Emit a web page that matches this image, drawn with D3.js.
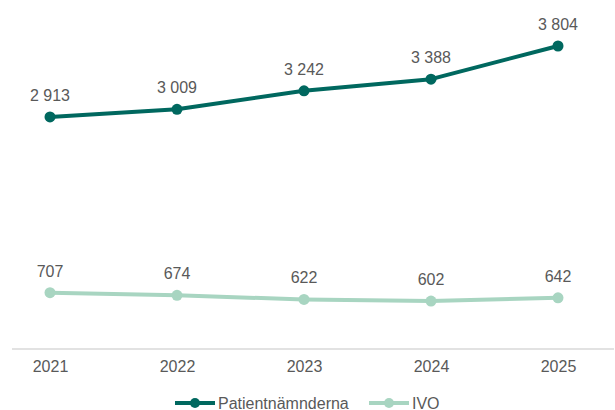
<!DOCTYPE html>
<html>
<head>
<meta charset="utf-8">
<script src="https://cdn.jsdelivr.net/npm/d3@7"></script>
<style>
  body { margin: 0; background: #fff; }
  text { font-family: "Liberation Sans", Arial, sans-serif; fill: #595959; }
</style>
</head>
<body>
<div id="chart"></div>
<script>
(function () {

    var years = ['2021', '2022', '2023', '2024', '2025'];
    var patient = [2913, 3009, 3242, 3388, 3804];
    var ivo = [707, 674, 622, 602, 642];
    var seriesNames = ['Patientnämnderna', 'IVO'];
    var colors = ['#00685f', '#a8d5c1'];

    var w = 615, h = 410;
    var fmt = function (v) { return d3.format(',')(v).replace(/,/g, ' '); };

    var svg = d3.select('#chart').append('svg')
        .attr('width', w)
        .attr('height', h);

    var x = d3.scalePoint().domain(years).range([50, 558]);
    var y = d3.scaleLinear().domain([0, 4000]).range([349, 30.4]);

    // baseline
    svg.append('line')
        .attr('x1', 12).attr('x2', 614)
        .attr('y1', y(0)).attr('y2', y(0))
        .attr('stroke', '#d9d9d9').attr('stroke-width', 1.5);

    var xAxis = svg.append('g')
        .attr('transform', 'translate(0,' + y(0) + ')')
        .call(d3.axisBottom(x).tickSize(0).tickPadding(12));
    xAxis.select('.domain').remove();
    xAxis.selectAll('text')
        .attr('font-size', 16)
        .attr('font-family', '"Liberation Sans", Arial, sans-serif')
        .attr('fill', '#595959');

    var series = [patient, ivo];
    var line = d3.line()
        .x(function (d, i) { return x(years[i]); })
        .y(function (d) { return y(d); });

    series.forEach(function (data, s) {
        svg.append('path')
            .datum(data)
            .attr('d', line)
            .attr('fill', 'none')
            .attr('stroke', colors[s])
            .attr('stroke-width', 4)
            .attr('stroke-linejoin', 'round');

        svg.selectAll('circle.s' + s)
            .data(data)
            .enter()
            .append('circle')
                .attr('class', 's' + s)
                .attr('cx', function (d, i) { return x(years[i]); })
                .attr('cy', function (d) { return y(d); })
                .attr('r', 5.5)
                .attr('fill', colors[s]);

        svg.selectAll('text.v' + s)
            .data(data)
            .enter()
            .append('text')
                .attr('class', 'v' + s)
                .attr('text-anchor', 'middle')
                .attr('font-size', 16)
                .attr('x', function (d, i) { return x(years[i]); })
                .attr('y', function (d) { return y(d) - 16; })
                .text(function (d) { return fmt(d); });
    });

    // legend
    var legendX = [175, 369];
    seriesNames.forEach(function (name, s) {
        var g = svg.append('g').attr('transform', 'translate(' + legendX[s] + ',403)');
        g.append('line')
            .attr('x1', 0).attr('x2', 40)
            .attr('stroke', colors[s]).attr('stroke-width', 4);
        g.append('circle')
            .attr('cx', 20).attr('r', 5)
            .attr('fill', colors[s]);
        g.append('text')
            .attr('x', 43).attr('y', 5.5)
            .attr('font-size', 16)
            .text(name);
    });

})();
</script>
</body>
</html>
